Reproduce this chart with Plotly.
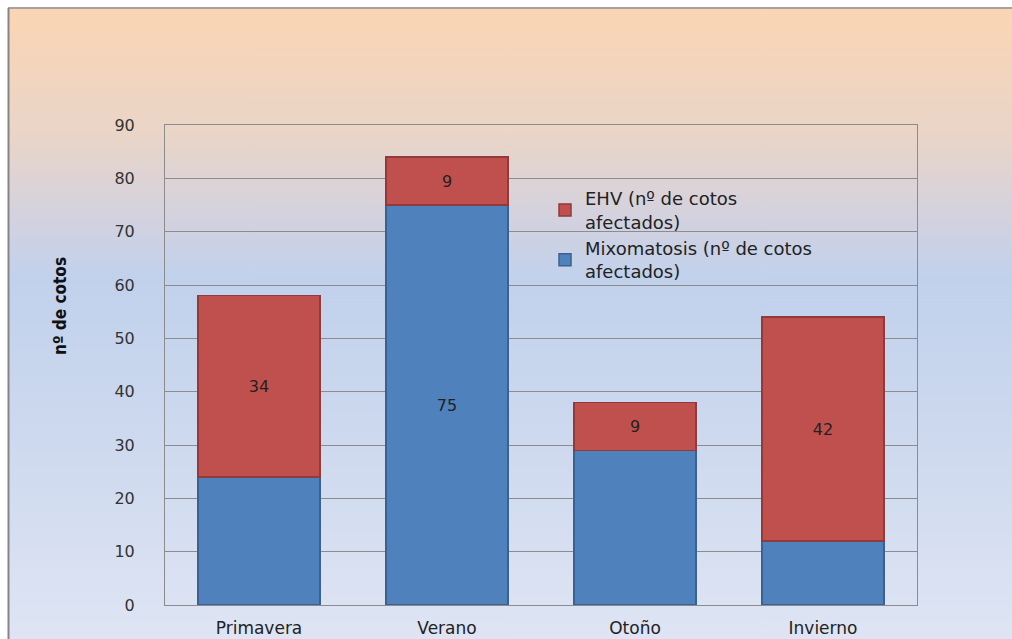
import base64
import plotly.graph_objects as go

categories = ["Primavera", "Verano", "Otoño", "Invierno"]
mixomatosis = [24, 75, 29, 12]
ehv = [34, 9, 9, 42]
mixo_labels = ["", "75", "", ""]
ehv_labels = ["34", "9", "9", "42"]
y_ticks = [0, 10, 20, 30, 40, 50, 60, 70, 80, 90]

W, H = 1012, 639
L, R, T, B = 165, 95, 125, 34
pw, ph = W - L - R, H - T - B

svg = f'''<svg xmlns="http://www.w3.org/2000/svg" width="{W}" height="{H}" preserveAspectRatio="none">
<defs><linearGradient id="g" x1="0" y1="0" x2="0" y2="1">
<stop offset="0" stop-color="#fbd5b4"/>
<stop offset="0.2" stop-color="#e9d5c8"/>
<stop offset="0.31" stop-color="#d6d2dc"/>
<stop offset="0.42" stop-color="#c1d1ec"/>
<stop offset="0.65" stop-color="#ccd8ee"/>
<stop offset="1" stop-color="#dfe5f4"/>
</linearGradient></defs>
<rect x="0" y="0" width="{W}" height="{H}" fill="#ffffff"/>
<rect x="9" y="9" width="{W}" height="{H}" fill="url(#g)"/>
<line x1="8.5" y1="8" x2="8.5" y2="{H}" stroke="#858585" stroke-width="2"/>
<line x1="8" y1="8" x2="{W}" y2="8" stroke="#858585" stroke-width="1.5"/>
</svg>'''
src = "data:image/svg+xml;base64," + base64.b64encode(svg.encode()).decode()

fig = go.Figure()
fig.add_trace(go.Bar(
    x=categories, y=mixomatosis, name="Mixomatosis (nº de cotos<br>afectados)",
    marker=dict(color="#4f81bd", line=dict(color="#3a6190", width=1.5)),
    text=mixo_labels, textposition="inside", insidetextanchor="middle",
    textfont=dict(family="DejaVu Sans", size=16, color="#222222"), width=0.65,
))
fig.add_trace(go.Bar(
    x=categories, y=ehv, name="EHV (nº de cotos<br>afectados)",
    marker=dict(color="#c0504d", line=dict(color="#913a38", width=1.5)),
    text=ehv_labels, textposition="inside", insidetextanchor="middle",
    textfont=dict(family="DejaVu Sans", size=16, color="#222222"), width=0.65,
))

fig.update_layout(
    width=W, height=H, barmode="stack",
    margin=dict(l=L, r=R, t=T, b=B, autoexpand=False),
    paper_bgcolor="rgba(0,0,0,0)", plot_bgcolor="#e6e6e6",
    images=[dict(source=src, xref="paper", yref="paper",
                 x=-L / pw, y=1 + T / ph, sizex=W / pw, sizey=H / ph,
                 xanchor="left", yanchor="top", sizing="stretch", layer="below")],
    legend=dict(x=(545 - L) / pw, y=(605 - 180) / ph, xanchor="left", yanchor="top",
                bgcolor="rgba(0,0,0,0)", traceorder="reversed",
                font=dict(family="DejaVu Sans", size=18, color="#222222"),
                itemwidth=30, tracegroupgap=0),
    showlegend=True,
    uniformtext=dict(minsize=8, mode="show"),
    annotations=[dict(text="<b>nº de cotos</b>", xref="paper", yref="paper",
                      x=(60 - L) / pw, y=(605 - 306) / ph, textangle=-90, showarrow=False,
                      xanchor="center", yanchor="middle",
                      font=dict(family="Liberation Sans Narrow, DejaVu Sans Condensed", size=17, color="#111111"))],
)
fig.update_yaxes(range=[0, 90], tickvals=y_ticks, showgrid=True, gridcolor="#8c8c8c", gridwidth=1,
                 showline=True, linecolor="#8c8c8c", mirror=True, zeroline=False,
                 ticks="", ticklabelstandoff=26, automargin=False,
                 tickfont=dict(family="DejaVu Sans", size=16, color="#333333"))
fig.update_xaxes(showline=True, linecolor="#8c8c8c", mirror=True, ticks="", ticklabelstandoff=8,
                 automargin=False,
                 tickfont=dict(family="DejaVu Sans", size=17, color="#222222"))

fig.write_html("out.html")
